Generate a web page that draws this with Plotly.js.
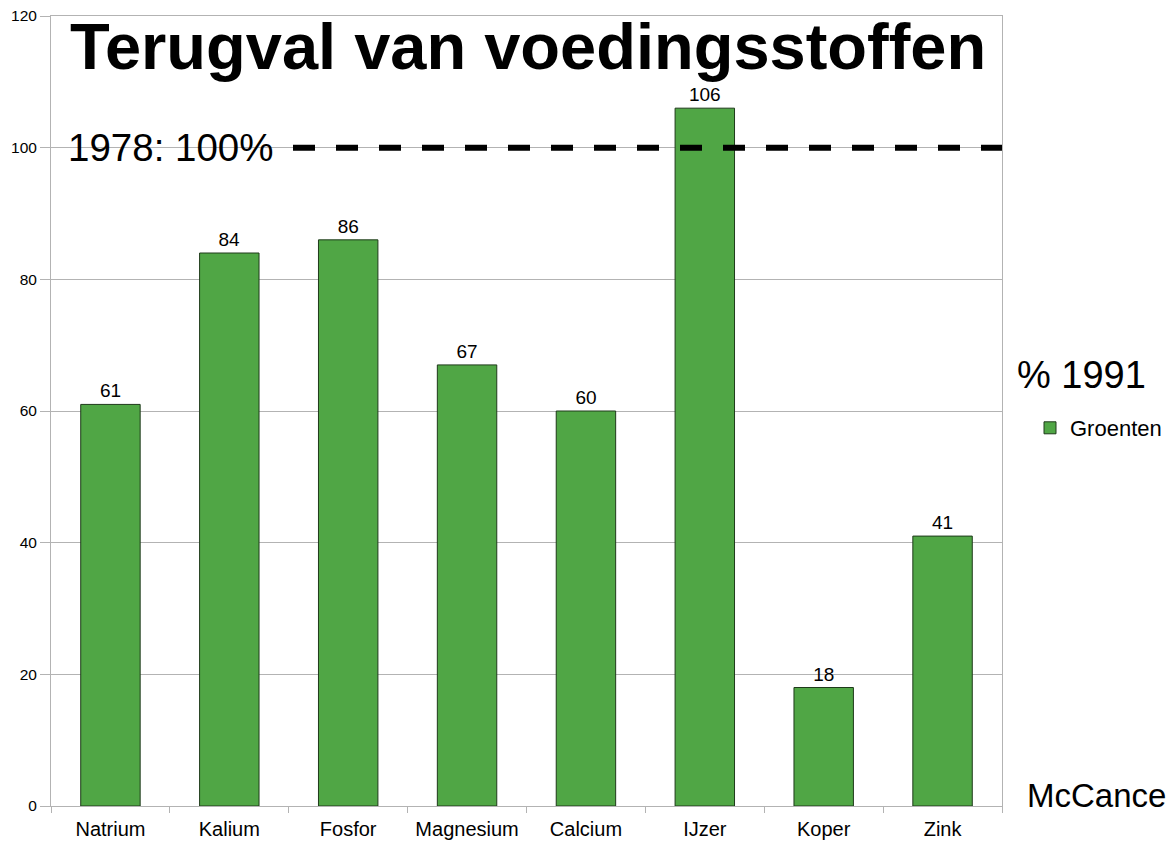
<!DOCTYPE html>
<html><head><meta charset="utf-8">
<script src="https://cdn.plot.ly/plotly-3.0.1.min.js"></script>
<style>body{margin:0;background:#fff}#c{width:1173px;height:841px}</style>
</head><body><div id="c"></div>
<script>
const categories = ["Natrium","Kalium","Fosfor","Magnesium","Calcium","IJzer","Koper","Zink"];
const groenten = [61,84,86,67,60,106,18,41];
const referenceLevel = 100;
const yTicks = [0,20,40,60,80,100,120];

const F = "Liberation Sans, Arial, sans-serif";
const trace = {
  type:"bar", x:categories, y:groenten, name:"Groenten",
  marker:{color:"#50a645", line:{color:"#1e3a1a", width:1}},
  text:groenten.map(String), textposition:"outside",
  textfont:{family:F,size:19,color:"#000"}, cliponaxis:false, width:0.5
};
const layout = {
  width:1173, height:841,
  margin:{l:51,r:171,t:16,b:35,autoexpand:false},
  paper_bgcolor:"#fff", plot_bgcolor:"#fff",
  showlegend:true,
  legend:{x:(1030-51)/951, y:(806-428)/790, xanchor:"left", yanchor:"middle", font:{family:F,size:22,color:"#000"}, itemwidth:30, bgcolor:"rgba(0,0,0,0)"},
  xaxis:{type:"category", range:[-0.5,7.5], showgrid:false, showline:true, linecolor:"#b3b3b3", linewidth:1, mirror:true,
    ticks:"outside", tickson:"boundaries", ticklen:6, tickcolor:"#b3b3b3", tickfont:{family:F,size:20,color:"#000"}, ticklabelstandoff:5},
  yaxis:{range:[0,120], tickvals:yTicks, showgrid:true, gridcolor:"#b3b3b3", gridwidth:1, showline:true, linecolor:"#b3b3b3", mirror:true,
    ticks:"outside", ticklen:10, tickcolor:"#b3b3b3", tickfont:{family:F,size:15.5,color:"#000"}, zeroline:false},
  shapes:[{type:"line", xref:"paper", x0:(293-51)/951, x1:1, yref:"y", y0:referenceLevel, y1:referenceLevel,
    line:{color:"#000", width:6, dash:"22px,21px"}, layer:"above"}],
  annotations:[
    {text:"<b>Terugval van voedingsstoffen</b>", xref:"paper", yref:"y", x:(68-51)/951, y:115.3, xanchor:"left", yanchor:"middle", showarrow:false, font:{family:F,size:65,color:"#000"}},
    {text:"1978: 100%", xref:"paper", yref:"y", x:(66-51)/951, y:referenceLevel, xanchor:"left", yanchor:"middle", showarrow:false, font:{family:F,size:38.5,color:"#000"}},
    {text:"% 1991", xref:"paper", yref:"paper", x:(1015-51)/951, y:(806-375)/790, xanchor:"left", yanchor:"middle", showarrow:false, font:{family:F,size:38,color:"#000"}},
    {text:"McCance", xref:"paper", yref:"paper", x:(1025-51)/951, y:(806-795)/790, xanchor:"left", yanchor:"middle", showarrow:false, font:{family:F,size:33,color:"#000"}}
  ]
};
Plotly.newPlot("c",[trace],layout,{displayModeBar:false});
</script></body></html>
